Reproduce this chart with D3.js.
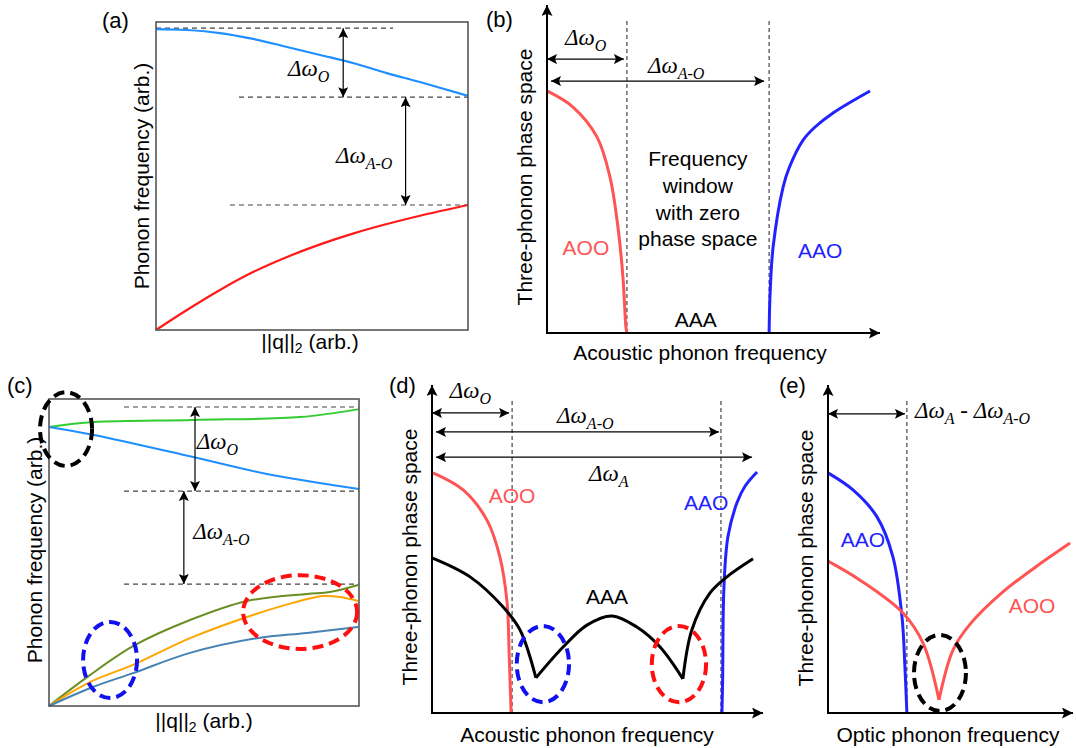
<!DOCTYPE html>
<html>
<head>
<meta charset="utf-8">
<script src="https://cdn.jsdelivr.net/npm/d3@7"></script>
<style>
  body { margin: 0; background: #fff; }
  svg { display: block; font-family: "Liberation Sans", Arial, sans-serif; }
</style>
</head>
<body>
<div id="chart"></div>
<script>
// All values are in arbitrary units, 0-100 on both axes of every panel

// (a) simple dispersion: one optical and one acoustic branch
const aQ = [0, 9.9, 20.5, 31.1, 42, 52.6, 63.1, 74, 84.6, 100];
const aOptical = [97.7, 97.4, 96.4, 94.5, 91.9, 89.3, 86.7, 83.4, 80.5, 76];
const aAcoustic = [0, 6.5, 13, 18.8, 23.7, 27.8, 31.3, 34.4, 37.1, 40.6];
const aLevels = [{ y: 98, x0: 0, x1: 76 }, { y: 75.6, x0: 26.6, x1: 100 }, { y: 40.6, x0: 23.7, x1: 100 }];
const aGaps = [
  { x: 60, y0: 98, y1: 75.6, subs: ['O'], lx: 42.3, ly: 82.5 },
  { x: 80, y0: 75.6, y1: 40.6, subs: ['A-O'], lx: 57.7, ly: 54.2 }
];

// (b) phase space vs acoustic frequency
const bAOO = [[0, 73.8], [7.8, 68.9], [15, 59.8], [18.9, 47.6], [21.3, 32.3], [22.8, 17.1], [23.7, 1.8], [24, 0]];
const bAAO = [[66.7, 0], [67, 12.2], [67.9, 26.2], [70.9, 44.5], [72.7, 50.3], [76.9, 58.8], [80.5, 62.8], [85.9, 67.1], [97, 73.8]];
const bCutoffs = [24, 66.7];
const bSpans = [
  { y: 83.5, x0: 0, x1: 23.1, subs: ['O'], lx: 5.4, ly: 87.8 },
  { y: 76.8, x0: 1.2, x1: 65.2, subs: ['A-O'], lx: 30.3, ly: 79.3 }
];
const bWindowText = ['Frequency', 'window', 'with zero', 'phase space'];
const bWindowY = [50.9, 42.7, 34.5, 26.5];

// (c) realistic dispersion: two optical, three acoustic branches
const cOptUpper = [[0, 90.9], [14.5, 92.5], [46.5, 93.2], [81, 94.1], [100, 96.7]];
const cOptLower = [[0, 90.9], [14.5, 88.3], [46.5, 81.1], [70.3, 75.6], [100, 70.7]];
const cAcHigh = [[0, 0], [12.3, 9.4], [27.1, 19.5], [45.5, 28], [63.9, 34.2], [83.2, 36.5], [90.6, 37.1], [99.7, 39.4]];
const cAcMid = [[0, 0], [13.2, 7.8], [27.1, 13.4], [45.5, 22.1], [63.9, 29], [78.7, 33.6], [88.4, 35.8], [93.9, 35.5], [99.7, 34.2]];
const cAcLow = [[0, 0], [14.2, 6.2], [27.1, 10.7], [45.5, 17.3], [67.1, 22.1], [83.2, 23.8], [99.7, 25.7]];
const cLevels = [{ y: 97.4, x0: 24.2, x1: 100 }, { y: 70, x0: 24.2, x1: 100 }, { y: 39.7, x0: 24.2, x1: 100 }];
const cGaps = [
  { x: 47.1, y0: 97.4, y1: 70, subs: ['O'], lx: 47.7, ly: 83.7 },
  { x: 43.5, y0: 70, y1: 39.7, subs: ['A-O'], lx: 46.5, ly: 54.4 }
];
const cRings = [
  { cx: 5.5, cy: 90.2, rx: 8.4, ry: 12, color: '#000' },
  { cx: 19.7, cy: 15, rx: 8.7, ry: 12.4, color: '#1010f0' },
  { cx: 81, cy: 30.6, rx: 18.4, ry: 12, color: '#ff1010' }
];

// (d) phase space vs acoustic frequency, realistic
const dAOO = [[0.3, 73.2], [9.4, 68], [16.6, 58.8], [20.5, 47.6], [22.7, 33.5], [23.3, 18.3], [23.9, 0]];
const dAAO = [[87.6, 0], [87.8, 10], [88.2, 38.4], [89.4, 53.7], [92.1, 64], [94.6, 69.2], [98.2, 73.5]];
const dAAA = [
  [[0, 47.3], [11.5, 41.5], [21.5, 32.3], [26.6, 25.3], [31.4, 10.7]],
  [[31.4, 10.7], [39.6, 20.1], [46.8, 26.8], [54.4, 29.6], [61.9, 26.2], [68.9, 20.1], [75.8, 10.4]],
  [[75.8, 10.4], [78.5, 25.3], [84, 36.6], [89.1, 41.5], [97, 47]]
];
const dCutoffs = [24.2, 87.3];
const dSpans = [
  { y: 91.5, x0: 0, x1: 23.3, subs: ['O'], lx: 5.4, ly: 96 },
  { y: 85.7, x0: 1.2, x1: 86.7, subs: ['A-O'], lx: 37.8, ly: 88.4 },
  { y: 78, x0: 1.2, x1: 96.7, subs: ['A'], lx: 47.4, ly: 70.7 }
];
const dRings = [
  { cx: 33.5, cy: 14.9, rx: 7.9, ry: 11.6, color: '#1010f0' },
  { cx: 74.6, cy: 14.9, rx: 8.2, ry: 11.6, color: '#ff1010' }
];

// (e) phase space vs optic frequency
const eAAO = [[0, 73.2], [10.2, 68], [20, 59.8], [26.5, 47.6], [30.2, 29.3], [31.4, 14], [32.2, 0]];
const eAOO = [
  [[0, 46.3], [13.1, 40.5], [30.6, 30.5], [38.8, 21.3], [45.3, 4]],
  [[45.3, 4], [51, 19.2], [58, 27.1], [71.4, 36.9], [85.3, 44.8], [98.8, 51.8]]
];
const eCutoffs = [32.2];
const eSpans = [{ y: 91.2, x0: 0, x1: 31.4, subs: ['A', 'A-O'], lx: 35.5, ly: 89.9 }];
const eRings = [{ cx: 45.7, cy: 12.2, rx: 10.6, ry: 11.6, color: '#000' }];

const W = 1076, H = 748;
const SERIF = '"Liberation Serif", "DejaVu Serif", serif';
const RED_A = '#ff1a1a', BLUE_A = '#1e8fff';
const AOO_C = '#ff5454', AAO_C = '#2222ff';
const FS = 21;

const svg = d3.select('#chart').append('svg')
  .attr('width', W).attr('height', H)
  .attr('viewBox', [0, 0, W, H]);

// arrowheads
const defs = svg.append('defs');
function marker(id, w, h) {
  defs.append('marker')
    .attr('id', id)
    .attr('viewBox', '0 0 10 10')
    .attr('refX', 10).attr('refY', 5)
    .attr('markerUnits', 'userSpaceOnUse')
    .attr('markerWidth', w).attr('markerHeight', h)
    .attr('orient', 'auto-start-reverse')
    .append('path')
    .attr('d', 'M0,0 L10,5 L0,10 L2,5 Z')
    .attr('fill', '#000');
}
marker('dim', 13, 10);
marker('ax', 15, 11);

function makePanel(xr, yr) {
  const g = svg.append('g');
  const x = d3.scaleLinear().domain([0, 100]).range(xr);
  const y = d3.scaleLinear().domain([0, 100]).range(yr);
  return { g, x, y };
}

function drawCurve(p, pts, color, width) {
  const line = d3.line()
    .x(d => p.x(d[0]))
    .y(d => p.y(d[1]))
    .curve(d3.curveCatmullRom.alpha(0.5));
  p.g.append('path')
    .attr('d', line(pts))
    .attr('fill', 'none')
    .attr('stroke', color)
    .attr('stroke-width', width)
    .attr('stroke-linejoin', 'miter');
}

function dashedH(p, lv) {
  p.g.append('line')
    .attr('x1', p.x(lv.x0)).attr('x2', p.x(lv.x1))
    .attr('y1', p.y(lv.y)).attr('y2', p.y(lv.y))
    .attr('stroke', '#444').attr('stroke-width', 1.1)
    .attr('stroke-dasharray', '5,4');
}

function dashedV(p, xv, top) {
  p.g.append('line')
    .attr('x1', p.x(xv)).attr('x2', p.x(xv))
    .attr('y1', p.y(0)).attr('y2', p.y(top))
    .attr('stroke', '#333').attr('stroke-width', 1.1)
    .attr('stroke-dasharray', '4,3');
}

function dimArrow(p, x1, y1, x2, y2) {
  p.g.append('line')
    .attr('x1', p.x(x1)).attr('y1', p.y(y1))
    .attr('x2', p.x(x2)).attr('y2', p.y(y2))
    .attr('stroke', '#000').attr('stroke-width', 1.2)
    .attr('marker-start', 'url(#dim)')
    .attr('marker-end', 'url(#dim)');
}

function ring(p, r) {
  p.g.append('ellipse')
    .attr('cx', p.x(r.cx)).attr('cy', p.y(r.cy))
    .attr('rx', p.x(r.rx) - p.x(0)).attr('ry', p.y(0) - p.y(r.ry))
    .attr('fill', 'none')
    .attr('stroke', r.color).attr('stroke-width', 4)
    .attr('stroke-dasharray', '11,6');
}

// Δω with subscripts, several terms joined by " - "
function deltaText(p, lx, ly, subs) {
  const t = p.g.append('text')
    .attr('x', p.x(lx)).attr('y', p.y(ly))
    .attr('font-family', SERIF).attr('font-style', 'italic')
    .attr('font-size', 23).attr('fill', '#000');
  subs.forEach((s, i) => {
    if (i > 0) t.append('tspan').attr('dy', -6).attr('font-style', 'normal').text(' - ');
    t.append('tspan').text('Δω');
    t.append('tspan').attr('dy', 6).attr('font-size', 16).text(s);
  });
}

function label(g, x, y, txt, color, size, anchor) {
  return g.append('text')
    .attr('x', x).attr('y', y)
    .attr('text-anchor', anchor || 'middle')
    .attr('font-size', size || FS)
    .attr('fill', color || '#000')
    .text(txt);
}

function yLabel(g, x, y, txt) {
  g.append('text')
    .attr('transform', `translate(${x},${y}) rotate(-90)`)
    .attr('text-anchor', 'middle')
    .attr('font-size', FS)
    .text(txt);
}

function qLabel(g, x, y) {
  const t = g.append('text')
    .attr('x', x).attr('y', y)
    .attr('text-anchor', 'middle')
    .attr('font-size', FS);
  t.append('tspan').text('||q||');
  t.append('tspan').attr('dy', 4).attr('font-size', 14).text('2');
  t.append('tspan').attr('dy', -4).text(' (arb.)');
}

function arrowAxes(p) {
  p.g.append('line')
    .attr('x1', p.x(0)).attr('y1', p.y(0))
    .attr('x2', p.x(0)).attr('y2', p.y(100))
    .attr('stroke', '#000').attr('stroke-width', 2)
    .attr('marker-end', 'url(#ax)');
  p.g.append('line')
    .attr('x1', p.x(0) - 1).attr('y1', p.y(0))
    .attr('x2', p.x(100)).attr('y2', p.y(0))
    .attr('stroke', '#000').attr('stroke-width', 2)
    .attr('marker-end', 'url(#ax)');
}

function frame(p) {
  p.g.append('rect')
    .attr('x', p.x(0)).attr('y', p.y(100))
    .attr('width', p.x(100) - p.x(0))
    .attr('height', p.y(0) - p.y(100))
    .attr('fill', 'none')
    .attr('stroke', '#555').attr('stroke-width', 1.6);
}

// ---------- (a) ----------
const pa = makePanel([156, 468], [330, 22]);
aLevels.forEach(lv => dashedH(pa, lv));
drawCurve(pa, aQ.map((q, i) => [q, aOptical[i]]), BLUE_A, 2.2);
drawCurve(pa, aQ.map((q, i) => [q, aAcoustic[i]]), RED_A, 2.2);
frame(pa);
aGaps.forEach(d => {
  dimArrow(pa, d.x, d.y0, d.x, d.y1);
  deltaText(pa, d.lx, d.ly, d.subs);
});
yLabel(svg, 149, 176, 'Phonon frequency (arb.)');
qLabel(svg, 310, 349);
label(svg, 102, 28, '(a)', '#000', 22, 'start');

// ---------- (b) ----------
const pb = makePanel([547, 880], [333, 5]);
bCutoffs.forEach(c => dashedV(pb, c, 96));
drawCurve(pb, bAOO, AOO_C, 3);
drawCurve(pb, bAAO, AAO_C, 3);
arrowAxes(pb);
bSpans.forEach(d => {
  dimArrow(pb, d.x0, d.y, d.x1, d.y);
  deltaText(pb, d.lx, d.ly, d.subs);
});
bWindowText.forEach((t, i) => label(pb.g, pb.x(45.3), pb.y(bWindowY[i]), t));
label(pb.g, pb.x(11.7), pb.y(23.8), 'AOO', AOO_C);
label(pb.g, pb.x(82), pb.y(22.9), 'AAO', AAO_C);
label(pb.g, pb.x(44.7), pb.y(1.8), 'AAA');
yLabel(svg, 532, 177, 'Three-phonon phase space');
label(svg, 700, 360, 'Acoustic phonon frequency');
label(svg, 486, 27, '(b)', '#000', 22, 'start');

// ---------- (c) ----------
const pc = makePanel([49, 359], [706, 399]);
cLevels.forEach(lv => dashedH(pc, lv));
drawCurve(pc, cOptUpper, '#33cc33', 2);
drawCurve(pc, cOptLower, '#1e8fff', 2);
drawCurve(pc, cAcHigh, '#6b8e23', 2);
drawCurve(pc, cAcMid, '#ffa500', 2);
drawCurve(pc, cAcLow, '#4682b4', 2);
frame(pc);
cGaps.forEach(d => {
  dimArrow(pc, d.x, d.y0, d.x, d.y1);
  deltaText(pc, d.lx, d.ly, d.subs);
});
yLabel(svg, 42, 550, 'Phonon frequency (arb.)');
cRings.forEach(r => ring(pc, r));
qLabel(svg, 204, 728);
label(svg, 7, 393, '(c)', '#000', 22, 'start');

// ---------- (d) ----------
const pd = makePanel([432, 763], [713, 385]);
dCutoffs.forEach(c => dashedV(pd, c, 95.4));
drawCurve(pd, dAOO, AOO_C, 3);
drawCurve(pd, dAAO, AAO_C, 3);
dAAA.forEach(seg => drawCurve(pd, seg, '#000', 3));
arrowAxes(pd);
dSpans.forEach(d => {
  dimArrow(pd, d.x0, d.y, d.x1, d.y);
  deltaText(pd, d.lx, d.ly, d.subs);
});
dRings.forEach(r => ring(pd, r));
label(pd.g, pd.x(24.2), pd.y(64), 'AOO', AOO_C);
label(pd.g, pd.x(82.8), pd.y(61.9), 'AAO', AAO_C);
label(pd.g, pd.x(52.9), pd.y(33.2), 'AAA');
yLabel(svg, 417, 557, 'Three-phonon phase space');
label(svg, 587, 742, 'Acoustic phonon frequency');
label(svg, 389, 393, '(d)', '#000', 22, 'start');

// ---------- (e) ----------
const pe = makePanel([828, 1073], [713, 385]);
eCutoffs.forEach(c => dashedV(pe, c, 95.7));
drawCurve(pe, eAAO, AAO_C, 3);
eAOO.forEach(seg => drawCurve(pe, seg, AOO_C, 3));
arrowAxes(pe);
eSpans.forEach(d => {
  dimArrow(pe, d.x0, d.y, d.x1, d.y);
  deltaText(pe, d.lx, d.ly, d.subs);
});
eRings.forEach(r => ring(pe, r));
label(pe.g, pe.x(14.3), pe.y(50.6), 'AAO', AAO_C);
label(pe.g, pe.x(83.3), pe.y(30.5), 'AOO', AOO_C);
yLabel(svg, 813, 558, 'Three-phonon phase space');
label(svg, 948, 742, 'Optic phonon frequency');
label(svg, 779, 393, '(e)', '#000', 22, 'start');
</script>
</body>
</html>
